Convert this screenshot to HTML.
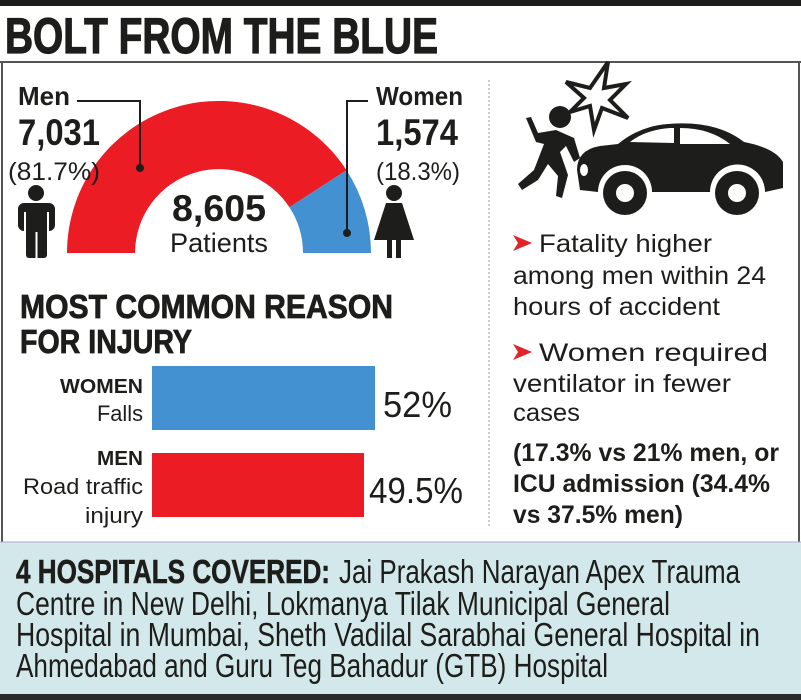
<!DOCTYPE html>
<html><head><meta charset="utf-8"><style>
html,body{margin:0;padding:0;background:#fff;}
svg{display:block;}
text{font-family:"Liberation Sans",sans-serif;fill:#1d1d1b;}
.b{font-weight:bold;}
</style></head><body>
<svg width="801" height="700" viewBox="0 0 801 700" xmlns="http://www.w3.org/2000/svg">
<rect x="0" y="0" width="801" height="6" fill="#1d1d1b"/>
<text x="5" y="53" class="b" font-size="50" textLength="433" lengthAdjust="spacingAndGlyphs" stroke="#1d1d1b" stroke-width="1.2">BOLT FROM THE BLUE</text>
<line x1="0" y1="62" x2="801" y2="62" stroke="#555" stroke-width="2"/>
<line x1="2" y1="62" x2="2" y2="542" stroke="#555" stroke-width="2"/>
<line x1="799" y1="62" x2="799" y2="542" stroke="#555" stroke-width="2"/>
<line x1="489" y1="80" x2="489" y2="528" stroke="#bbb" stroke-width="1.5" stroke-dasharray="2,2"/>

<path d="M67 253 A152 152 0 0 1 346.5 170.2 L289.4 207.3 A84 84 0 0 0 135 253 Z" fill="#ec1c24"/>
<path d="M346.5 170.2 A152 152 0 0 1 371 253 L303 253 A84 84 0 0 0 289.4 207.3 Z" fill="#4391d0"/>
<polyline points="77,101 140,101 140,168" fill="none" stroke="#1d1d1b" stroke-width="2"/>
<circle cx="140" cy="168" r="4" fill="#1d1d1b"/>
<polyline points="368,101 347,101 347,233" fill="none" stroke="#1d1d1b" stroke-width="2"/>
<circle cx="347" cy="233" r="4" fill="#1d1d1b"/>

<text x="18" y="105" class="b" font-size="26" textLength="52" lengthAdjust="spacingAndGlyphs">Men</text>
<text x="18" y="145" class="b" font-size="37" textLength="82" lengthAdjust="spacingAndGlyphs">7,031</text>
<text x="8" y="180" font-size="25" textLength="92" lengthAdjust="spacingAndGlyphs">(81.7%)</text>
<text x="376" y="105" class="b" font-size="26" textLength="87" lengthAdjust="spacingAndGlyphs">Women</text>
<text x="376" y="145" class="b" font-size="37" textLength="82" lengthAdjust="spacingAndGlyphs">1,574</text>
<text x="376" y="180" font-size="25" textLength="84" lengthAdjust="spacingAndGlyphs">(18.3%)</text>
<text x="172" y="221" class="b" font-size="37" textLength="94" lengthAdjust="spacingAndGlyphs">8,605</text>
<text x="170" y="252" font-size="27" textLength="98" lengthAdjust="spacingAndGlyphs">Patients</text>

<g fill="#1d1d1b">
<circle cx="36" cy="193" r="8"/>
<rect x="18" y="203" width="37" height="28" rx="6"/>
<rect x="26" y="220" width="21" height="38" rx="3"/>
<rect x="35.5" y="232" width="2" height="26" fill="#fff"/>
<rect x="24" y="212" width="2" height="20" fill="#fff"/>
<rect x="47" y="212" width="2" height="20" fill="#fff"/>
</g>
<g fill="#1d1d1b">
<circle cx="394" cy="193" r="8"/>
<path d="M386 203 L402 203 L414 240 L374 240 Z"/>
<rect x="387" y="238" width="5" height="20"/>
<rect x="396" y="238" width="5" height="20"/>
</g>

<text x="20" y="318" class="b" font-size="33" textLength="373" lengthAdjust="spacingAndGlyphs" stroke="#1d1d1b" stroke-width="0.8">MOST COMMON REASON</text>
<text x="20" y="353" class="b" font-size="33" textLength="172" lengthAdjust="spacingAndGlyphs" stroke="#1d1d1b" stroke-width="0.8">FOR INJURY</text>

<rect x="152" y="366" width="223" height="64" fill="#4391d0"/>
<rect x="152" y="453" width="212" height="64" fill="#ec1c24"/>
<text x="143" y="393" class="b" font-size="20" text-anchor="end" textLength="83" lengthAdjust="spacingAndGlyphs">WOMEN</text>
<text x="143" y="421" font-size="22" text-anchor="end" textLength="46" lengthAdjust="spacingAndGlyphs">Falls</text>
<text x="143" y="465" class="b" font-size="20" text-anchor="end" textLength="46" lengthAdjust="spacingAndGlyphs">MEN</text>
<text x="143" y="494" font-size="22" text-anchor="end" textLength="120" lengthAdjust="spacingAndGlyphs">Road traffic</text>
<text x="143" y="523" font-size="22" text-anchor="end" textLength="58" lengthAdjust="spacingAndGlyphs">injury</text>
<text x="383" y="417" font-size="36" textLength="69" lengthAdjust="spacingAndGlyphs">52%</text>
<text x="369" y="503" font-size="36" textLength="94" lengthAdjust="spacingAndGlyphs">49.5%</text>

<g fill="#1d1d1b">
<polygon points="608,62 604,88 626,84 610,100 628,118 602,108 594,130 590,106 570,112 584,98 566,82 590,88" fill="#fff" stroke="#1d1d1b" stroke-width="4" stroke-linejoin="miter"/>
<circle cx="560" cy="117" r="11"/>
<path d="M526 118 L531 117 L538 133 L556 130 L574 138 L580 158 L574 162 L566 146 L560 152 L568 175 L562 198 L556 196 L558 176 L548 164 L538 180 L522 190 L518 184 L534 170 L544 144 L536 142 Z"/>
<path d="M577 170 Q577 150 600 146 L618 144 Q640 126 668 124 Q716 120 744 142 Q775 148 783 162 L783 188 L765 192 A26 26 0 0 0 710 192 L652 192 A26 26 0 0 0 598 192 L580 190 Z"/>
<path d="M630 142 Q645 130 670 128 L674 128 L674 143 Z M680 128 Q710 128 730 144 L680 144 Z" fill="#fff"/>
<circle cx="625" cy="193" r="22"/>
<circle cx="625" cy="193" r="9" fill="#fff"/>
<circle cx="737" cy="193" r="22"/>
<circle cx="737" cy="193" r="9" fill="#fff"/>
<ellipse cx="584" cy="170" rx="4" ry="6" fill="#fff"/>
</g>

<g font-size="25">
<path d="M513 235 L532 243 L513 251 L518 243 Z" fill="#e2232a"/>
<text x="539" y="252" textLength="173" lengthAdjust="spacingAndGlyphs">Fatality higher</text>
<text x="513" y="284" textLength="253" lengthAdjust="spacingAndGlyphs">among men within 24</text>
<text x="513" y="315" textLength="207" lengthAdjust="spacingAndGlyphs">hours of accident</text>
<path d="M513 344 L532 352 L513 360 L518 352 Z" fill="#e2232a"/>
<text x="539" y="361" textLength="229" lengthAdjust="spacingAndGlyphs">Women required</text>
<text x="513" y="392" textLength="218" lengthAdjust="spacingAndGlyphs">ventilator in fewer</text>
<text x="513" y="421" textLength="67" lengthAdjust="spacingAndGlyphs">cases</text>
<text x="513" y="461" class="b" textLength="266" lengthAdjust="spacingAndGlyphs">(17.3% vs 21% men, or</text>
<text x="513" y="492" class="b" textLength="257" lengthAdjust="spacingAndGlyphs">ICU admission (34.4%</text>
<text x="513" y="523" class="b" textLength="170" lengthAdjust="spacingAndGlyphs">vs 37.5% men)</text>
</g>

<rect x="0" y="542" width="801" height="153" fill="#d3e8ea"/>
<line x1="0" y1="542" x2="801" y2="542" stroke="#aac" stroke-width="1"/>
<rect x="0" y="694" width="801" height="6" fill="#2a2a2a"/>
<g font-size="33">
<text x="16" y="583" class="b" textLength="314" lengthAdjust="spacingAndGlyphs" stroke="#1d1d1b" stroke-width="0.6">4 HOSPITALS COVERED:</text>
<text x="339" y="583" textLength="401" lengthAdjust="spacingAndGlyphs">Jai Prakash Narayan Apex Trauma</text>
<text x="16" y="615" textLength="654" lengthAdjust="spacingAndGlyphs">Centre in New Delhi, Lokmanya Tilak Municipal General</text>
<text x="16" y="646" textLength="744" lengthAdjust="spacingAndGlyphs">Hospital in Mumbai, Sheth Vadilal Sarabhai General Hospital in</text>
<text x="16" y="677" textLength="592" lengthAdjust="spacingAndGlyphs">Ahmedabad and Guru Teg Bahadur (GTB) Hospital</text>
</g>
</svg>
</body></html>
